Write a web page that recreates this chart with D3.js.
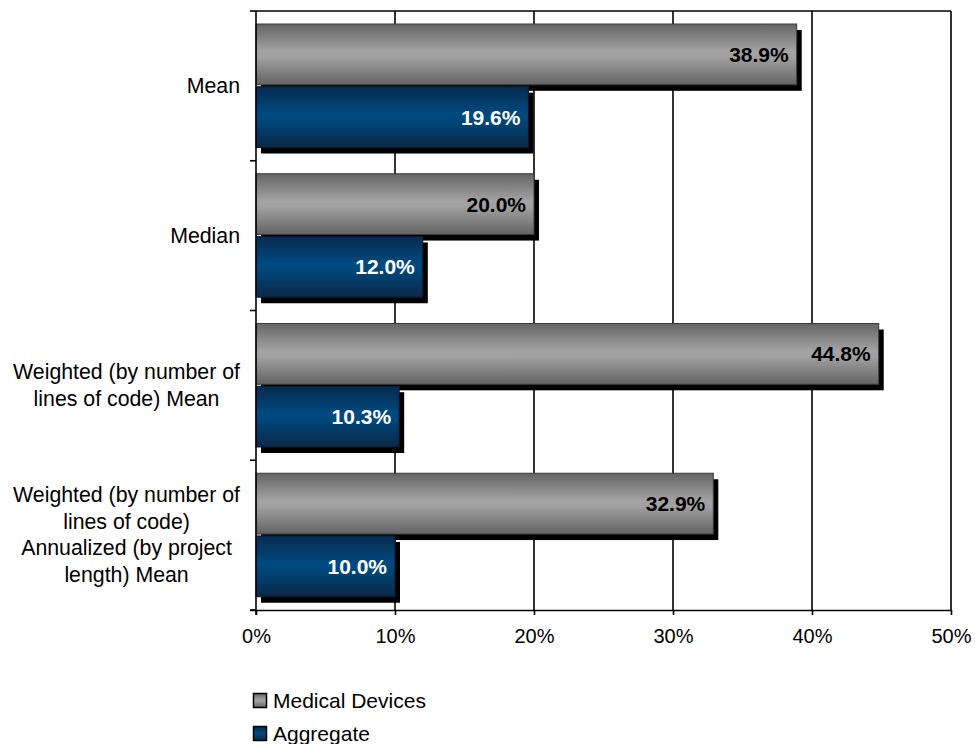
<!DOCTYPE html>
<html><head><meta charset="utf-8">
<script src="https://cdn.jsdelivr.net/npm/d3@7"></script>
<style>body{margin:0;background:#fff;} text{font-family:"Liberation Sans",Arial,sans-serif;}</style>
</head><body>
<svg id="c" width="975" height="744"></svg>
<script>
const categories = ["Mean", "Median", "Weighted (by number of|lines of code) Mean", "Weighted (by number of|lines of code)|Annualized (by project|length) Mean"];
const series = ["Medical Devices", "Aggregate"];
const medicalDevices = [0.389, 0.200, 0.448, 0.329];
const aggregate = [0.196, 0.120, 0.103, 0.100];
const xTicks = [0, 0.1, 0.2, 0.3, 0.4, 0.5];

const svg = d3.select("#c");
const L = 256, R = 951, T = 11, B = 610;
const x = d3.scaleLinear().domain([0, 0.5]).range([L, R]);
const y = d3.scaleBand().domain(categories).range([T, B]);
const yi = d3.scaleBand().domain(series).range([13, 136.5]).paddingInner(0.03);

const defs = svg.append("defs");
function grad(id, stops) {
  const g = defs.append("linearGradient").attr("id", id).attr("x1", 0).attr("y1", 0).attr("x2", 0).attr("y2", 1);
  stops.forEach(s => g.append("stop").attr("offset", s[0]).attr("stop-color", s[1]));
}
grad("gGray", [[0, "#656565"], [0.45, "#a3a3a3"], [0.55, "#a0a0a0"], [1, "#636363"]]);
grad("gBlue", [[0, "#072a4e"], [0.45, "#004a80"], [0.55, "#00477b"], [1, "#0a2846"]]);
const fills = {"Medical Devices": "url(#gGray)", "Aggregate": "url(#gBlue)"};
const strokes = {"Medical Devices": "#3a3a3a", "Aggregate": "#0a1a30"};
const labelColor = {"Medical Devices": "#000", "Aggregate": "#fff"};

// gridlines
svg.append("g").selectAll("line").data(xTicks.slice(1)).join("line")
  .attr("x1", d => x(d)).attr("x2", d => x(d)).attr("y1", T).attr("y2", B)
  .attr("stroke", "#000").attr("stroke-width", 1.6);
svg.append("line").attr("x1", L).attr("x2", R).attr("y1", T).attr("y2", T)
  .attr("stroke", "#000").attr("stroke-width", 1.6);

const rows = categories.map((c, i) => ({c, vals: [
  {s: series[0], v: medicalDevices[i]}, {s: series[1], v: aggregate[i]}]}));

const gRows = svg.append("g").selectAll("g").data(rows).join("g")
  .attr("transform", d => `translate(0,${y(d.c)})`);
gRows.each(function(d) {
  const g = d3.select(this);
  d.vals.forEach(b => {
    const y0 = yi(b.s), h = yi.bandwidth();
    g.append("rect").attr("x", x(0) + 5).attr("y", y0 + 6)
      .attr("width", x(b.v) - x(0)).attr("height", h).attr("fill", "#000");
    g.append("rect").attr("x", x(0)).attr("y", y0)
      .attr("width", x(b.v) - x(0)).attr("height", h)
      .attr("fill", fills[b.s]).attr("stroke", strokes[b.s]).attr("stroke-width", 1);
    g.append("text").attr("x", x(b.v) - 8).attr("y", y0 + h / 2 + 7.5)
      .attr("text-anchor", "end").attr("font-size", 21).attr("font-weight", "bold")
      .attr("fill", labelColor[b.s]).text((b.v * 100).toFixed(1) + "%");
  });
});

// left axis
svg.append("line").attr("x1", L).attr("x2", L).attr("y1", T).attr("y2", B + 5)
  .attr("stroke", "#000").attr("stroke-width", 1.6);
const bounds = categories.map(c => y(c)).concat([B]);
svg.append("g").selectAll("line").data(bounds).join("line")
  .attr("x1", L - 6).attr("x2", L).attr("y1", d => d).attr("y2", d => d)
  .attr("stroke", "#000").attr("stroke-width", 1.6);

// bottom axis
const xAxis = d3.axisBottom(x).tickValues(xTicks).tickFormat(d3.format(".0%")).tickSize(5).tickPadding(14);
const ax = svg.append("g").attr("transform", `translate(0,${B})`).call(xAxis);
ax.select(".domain").attr("stroke", "#000").attr("stroke-width", 1.6).attr("d", `M${L - 6},0.5H${R}`);
ax.selectAll(".tick line").attr("stroke", "#000").attr("stroke-width", 1.6);
ax.selectAll(".tick text").attr("font-size", 20).attr("fill", "#000")
  .attr("font-family", '"Liberation Sans",Arial,sans-serif').attr("dy", "0.71em");

// category labels
const lh = 26.5;
categories.forEach(c => {
  const lines = c.split("|");
  const t = svg.append("text").attr("font-size", 21.3).attr("fill", "#000").attr("text-anchor", "middle");
  const cy = y(c) + y.bandwidth() / 2;
  lines.forEach((ln, i) => {
    t.append("tspan").attr("y", cy + (i - (lines.length - 1) / 2) * lh + 7).text(ln);
  });
  let maxW = 0;
  t.selectAll("tspan").each(function() { maxW = Math.max(maxW, this.getComputedTextLength()); });
  t.selectAll("tspan").attr("x", 240 - maxW / 2);
});

// legend
const leg = svg.append("g").selectAll("g").data(series).join("g")
  .attr("transform", (d, i) => `translate(253,${693 + i * 33})`);
leg.append("rect").attr("x", 0.5).attr("y", 0.5).attr("width", 13).attr("height", 14)
  .attr("fill", d => fills[d]).attr("stroke", "#000").attr("stroke-width", 1.5);
leg.append("text").attr("x", 20).attr("y", 14.5).attr("font-size", 21).attr("fill", "#000").text(d => d);
</script>
</body></html>
